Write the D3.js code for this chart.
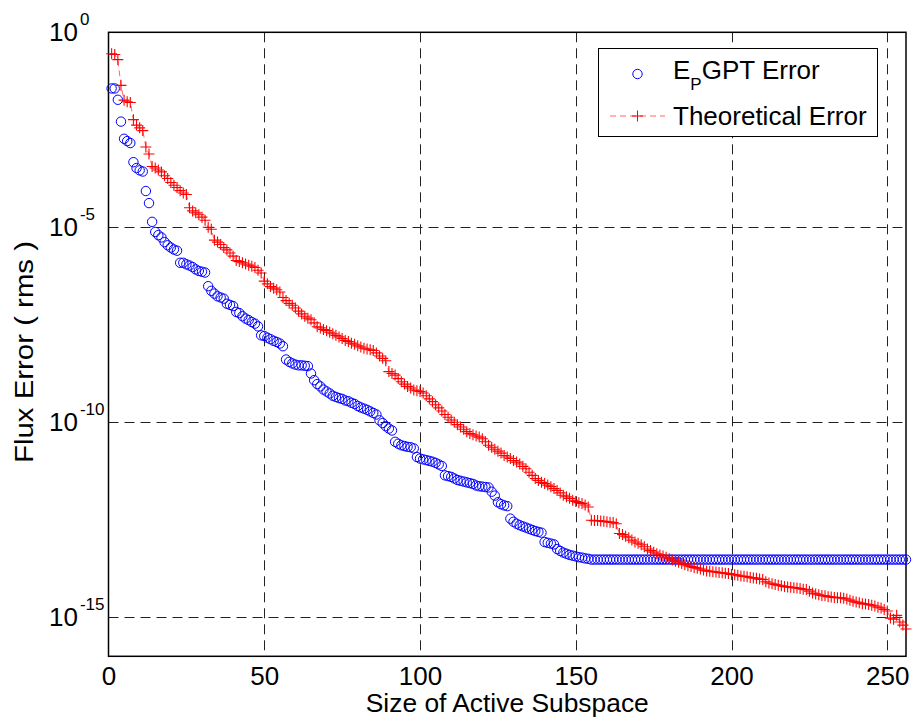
<!DOCTYPE html>
<html>
<head>
<meta charset="utf-8">
<script src="https://cdn.jsdelivr.net/npm/d3@7"></script>
<style>
  body { margin: 0; background: #fff; }
  svg text { font-family: 'Liberation Sans', Arial, Helvetica, sans-serif; fill: #000; }
</style>
</head>
<body>
<div id="chart"></div>
<script>
// subspace sizes 1..256 (x values)
var sizes = d3.range(1, 257);

// log10 of E_P GPT error
var gptErrorExp = [
  -1.44,-1.44,-1.73,-2.29,-2.73,-2.79,-2.84,-3.33,-3.48,-3.54,
  -3.57,-4.07,-4.38,-4.86,-5.12,-5.20,-5.26,-5.38,-5.46,-5.52,
  -5.57,-5.60,-5.91,-5.91,-5.95,-5.98,-6.02,-6.08,-6.12,-6.14,
  -6.16,-6.51,-6.63,-6.70,-6.77,-6.80,-6.83,-6.96,-6.99,-7.02,
  -7.17,-7.20,-7.28,-7.34,-7.38,-7.43,-7.47,-7.54,-7.77,-7.79,
  -7.83,-7.87,-7.91,-7.94,-7.98,-8.05,-8.39,-8.45,-8.49,-8.52,
  -8.54,-8.54,-8.55,-8.56,-8.75,-8.92,-9.02,-9.08,-9.16,-9.21,
  -9.26,-9.32,-9.35,-9.38,-9.40,-9.44,-9.46,-9.50,-9.53,-9.58,
  -9.62,-9.65,-9.68,-9.72,-9.76,-9.80,-9.95,-10.02,-10.10,-10.16,
  -10.21,-10.50,-10.55,-10.59,-10.61,-10.63,-10.64,-10.67,-10.89,-10.93,
  -10.95,-10.97,-10.99,-11.01,-11.04,-11.08,-11.12,-11.36,-11.38,-11.40,
  -11.44,-11.48,-11.50,-11.52,-11.54,-11.56,-11.58,-11.62,-11.64,-11.65,
  -11.66,-11.67,-11.78,-11.88,-12.05,-12.10,-12.13,-12.15,-12.47,-12.55,
  -12.60,-12.64,-12.67,-12.70,-12.73,-12.76,-12.79,-12.81,-12.83,-13.07,
  -13.09,-13.11,-13.13,-13.25,-13.30,-13.34,-13.37,-13.40,-13.42,-13.44,
  -13.46,-13.47,-13.49,-13.50,-13.52,-13.52,-13.52,-13.52,-13.52,-13.52,
  -13.52,-13.52,-13.52,-13.52,-13.52,-13.52,-13.52,-13.52,-13.52,-13.52,
  -13.52,-13.52,-13.52,-13.52,-13.52,-13.52,-13.52,-13.52,-13.52,-13.52,
  -13.52,-13.52,-13.52,-13.52,-13.52,-13.52,-13.52,-13.52,-13.52,-13.52,
  -13.52,-13.52,-13.52,-13.52,-13.52,-13.52,-13.52,-13.52,-13.52,-13.52,
  -13.52,-13.52,-13.52,-13.52,-13.52,-13.52,-13.52,-13.52,-13.52,-13.52,
  -13.52,-13.52,-13.52,-13.52,-13.52,-13.52,-13.52,-13.52,-13.52,-13.52,
  -13.52,-13.52,-13.52,-13.52,-13.52,-13.52,-13.52,-13.52,-13.52,-13.52,
  -13.52,-13.52,-13.52,-13.52,-13.52,-13.52,-13.52,-13.52,-13.52,-13.52,
  -13.52,-13.52,-13.52,-13.52,-13.52,-13.52,-13.52,-13.52,-13.52,-13.52,
  -13.52,-13.52,-13.52,-13.52,-13.52,-13.52
];

// log10 of theoretical error
var theoryErrorExp = [
  -0.55,-0.57,-0.70,-1.36,-1.74,-1.78,-1.80,-2.24,-2.38,-2.45,
  -2.52,-2.94,-3.12,-3.44,-3.48,-3.53,-3.58,-3.68,-3.75,-3.85,
  -3.92,-3.98,-4.06,-4.12,-4.16,-4.50,-4.58,-4.63,-4.68,-4.74,
  -4.82,-5.00,-5.05,-5.33,-5.38,-5.44,-5.52,-5.58,-5.66,-5.74,
  -5.85,-5.88,-5.91,-5.94,-5.97,-6.00,-6.03,-6.10,-6.17,-6.38,
  -6.45,-6.52,-6.56,-6.60,-6.66,-6.80,-6.88,-6.95,-7.00,-7.07,
  -7.15,-7.22,-7.28,-7.33,-7.37,-7.45,-7.55,-7.58,-7.62,-7.65,
  -7.69,-7.73,-7.77,-7.81,-7.85,-7.90,-7.93,-7.97,-8.00,-8.04,
  -8.07,-8.10,-8.12,-8.14,-8.16,-8.22,-8.30,-8.36,-8.42,-8.70,
  -8.75,-8.79,-8.88,-8.96,-9.02,-9.08,-9.12,-9.17,-9.19,-9.21,
  -9.25,-9.32,-9.40,-9.47,-9.55,-9.63,-9.71,-9.80,-9.87,-9.94,
  -10.00,-10.06,-10.12,-10.18,-10.24,-10.29,-10.32,-10.35,-10.38,-10.42,
  -10.50,-10.59,-10.64,-10.69,-10.74,-10.79,-10.85,-10.89,-10.93,-10.98,
  -11.02,-11.07,-11.13,-11.19,-11.28,-11.36,-11.44,-11.49,-11.54,-11.57,
  -11.61,-11.65,-11.70,-11.75,-11.81,-11.87,-11.91,-11.95,-12.00,-12.03,
  -12.06,-12.08,-12.12,-12.17,-12.51,-12.52,-12.52,-12.53,-12.54,-12.55,
  -12.56,-12.57,-12.60,-12.85,-12.88,-12.92,-12.96,-13.02,-13.07,-13.10,
  -13.14,-13.19,-13.25,-13.29,-13.33,-13.37,-13.40,-13.43,-13.46,-13.50,
  -13.53,-13.56,-13.59,-13.62,-13.65,-13.68,-13.70,-13.72,-13.74,-13.76,
  -13.79,-13.81,-13.82,-13.83,-13.84,-13.85,-13.86,-13.87,-13.88,-13.90,
  -13.91,-13.92,-13.94,-13.95,-13.96,-13.98,-13.99,-14.00,-14.02,-14.03,
  -14.09,-14.12,-14.14,-14.16,-14.18,-14.19,-14.21,-14.22,-14.23,-14.24,
  -14.25,-14.26,-14.28,-14.29,-14.33,-14.38,-14.40,-14.42,-14.44,-14.45,
  -14.47,-14.48,-14.49,-14.50,-14.50,-14.51,-14.53,-14.56,-14.59,-14.61,
  -14.63,-14.65,-14.66,-14.67,-14.69,-14.71,-14.74,-14.76,-14.80,-14.84,
  -15.02,-15.05,-14.95,-15.12,-15.20,-15.30
];

var xTicks = [0, 50, 100, 150, 200, 250];
var yTickExps = [0, -5, -10, -15];
var legendLabels = ['GPT Error', 'Theoretical Error'];

;(function() {
  'use strict';

  var width = 912, height = 719;
  var area = { left: 108.5, top: 32.3, right: 906, bottom: 656.3 };

  var svg = d3.select('#chart').append('svg')
    .attr('width', width)
    .attr('height', height)
    .attr('viewBox', '0 0 ' + width + ' ' + height);

  svg.append('rect').attr('width', width).attr('height', height).attr('fill', '#fff');

  var x = d3.scaleLinear()
    .domain([0, 256])
    .range([area.left, area.right]);

  var y = d3.scaleLog()
    .domain([1e-16, 1])
    .range([area.bottom, area.top]);

  var gpt = sizes.map(function(s, i) { return { x: s, y: Math.pow(10, gptErrorExp[i]) }; });
  var theory = sizes.map(function(s, i) { return { x: s, y: Math.pow(10, theoryErrorExp[i]) }; });

  // grid
  var grid = svg.append('g').attr('class', 'grid');
  grid.selectAll('line.v')
    .data(xTicks.filter(function(d) { return d > 0; }))
    .enter().append('line')
      .attr('class', 'v')
      .attr('x1', function(d) { return Math.round(x(d)) + 0.5; })
      .attr('x2', function(d) { return Math.round(x(d)) + 0.5; })
      .attr('y1', area.top)
      .attr('y2', area.bottom);
  grid.selectAll('line.h')
    .data(yTickExps.filter(function(d) { return d < 0; }))
    .enter().append('line')
      .attr('class', 'h')
      .attr('x1', area.left)
      .attr('x2', area.right)
      .attr('y1', function(d) { return Math.round(y(Math.pow(10, d))) + 0.5; })
      .attr('y2', function(d) { return Math.round(y(Math.pow(10, d))) + 0.5; });
  grid.selectAll('line')
    .attr('stroke', '#222')
    .attr('stroke-width', 1)
    .attr('stroke-dasharray', '10,6');

  // x tick labels
  var xAxis = d3.axisBottom(x)
    .tickValues(xTicks)
    .tickSize(0)
    .tickPadding(10)
    .tickFormat(d3.format('d'));

  var gx = svg.append('g')
    .attr('transform', 'translate(0,' + area.bottom + ')')
    .call(xAxis);
  gx.select('.domain').remove();
  gx.selectAll('text')
    .attr('font-size', '26px')
    .attr('font-family', "'Liberation Sans', Arial, sans-serif");

  // y tick labels 10^n
  var yLab = svg.append('g').selectAll('text')
    .data(yTickExps)
    .enter().append('text')
      .attr('x', 49)
      .attr('y', function(d) { return y(Math.pow(10, d)) + 9; })
      .attr('font-size', '26px');
  yLab.append('tspan').text('10');
  yLab.append('tspan')
    .attr('dy', -16)
    .attr('dx', 2)
    .attr('font-size', '17px')
    .text(function(d) { return d === 0 ? '0' : '-' + Math.abs(d); });

  // axes box
  svg.append('rect')
    .attr('x', area.left)
    .attr('y', area.top)
    .attr('width', area.right - area.left)
    .attr('height', area.bottom - area.top)
    .attr('fill', 'none')
    .attr('stroke', '#000')
    .attr('stroke-width', 1.5);

  // E_P GPT circles
  svg.append('g').selectAll('circle')
    .data(gpt)
    .enter().append('circle')
      .attr('cx', function(d) { return x(d.x); })
      .attr('cy', function(d) { return y(d.y); })
      .attr('r', 4.7)
      .attr('fill', 'none')
      .attr('stroke', '#0000ff')
      .attr('stroke-width', 1);

  // theoretical: dashed line + plus markers
  var lineGen = d3.line()
    .x(function(d) { return x(d.x); })
    .y(function(d) { return y(d.y); });

  svg.append('path')
    .attr('d', lineGen(theory))
    .attr('fill', 'none')
    .attr('stroke', '#ff0000')
    .attr('stroke-opacity', 0.6)
    .attr('stroke-width', 1)
    .attr('stroke-dasharray', '6,4');

  var pm = 5.5;
  var plusPath = 'M' + (-pm) + ',0H' + pm + 'M0,' + (-pm) + 'V' + pm;
  svg.append('g').selectAll('path')
    .data(theory)
    .enter().append('path')
      .attr('d', plusPath)
      .attr('transform', function(d) { return 'translate(' + x(d.x) + ',' + y(d.y) + ')'; })
      .attr('fill', 'none')
      .attr('stroke', '#ff0000')
      .attr('stroke-width', 1.1);

  // axis labels
  svg.append('text')
    .attr('x', (area.left + area.right) / 2)
    .attr('y', 712)
    .attr('text-anchor', 'middle')
    .attr('font-size', '26px')
    .attr('textLength', 283)
    .attr('lengthAdjust', 'spacingAndGlyphs')
    .text('Size of Active Subspace');

  svg.append('text')
    .attr('transform', 'translate(33,352) rotate(-90)')
    .attr('text-anchor', 'middle')
    .attr('font-size', '26px')
    .attr('textLength', 222)
    .attr('lengthAdjust', 'spacingAndGlyphs')
    .text('Flux Error ( rms )');

  // legend
  var lg = svg.append('g').attr('class', 'legend');
  lg.append('rect')
    .attr('x', 598.5)
    .attr('y', 48.5)
    .attr('width', 279)
    .attr('height', 88)
    .attr('fill', '#fff')
    .attr('stroke', '#000')
    .attr('stroke-width', 1);

  lg.append('circle')
    .attr('cx', 637.5).attr('cy', 74)
    .attr('r', 4.7)
    .attr('fill', 'none')
    .attr('stroke', '#0000ff');

  var t1 = lg.append('text')
    .attr('x', 673)
    .attr('y', 79)
    .attr('font-size', '26px');
  t1.append('tspan').text('E');
  t1.append('tspan').attr('dy', 11).attr('font-size', '17px').text('P');
  t1.append('tspan').attr('dy', -11).text(legendLabels[0]);

  lg.append('line')
    .attr('x1', 610).attr('x2', 665)
    .attr('y1', 116).attr('y2', 116)
    .attr('stroke', '#ff0000')
    .attr('stroke-opacity', 0.6)
    .attr('stroke-dasharray', '6,4');
  lg.append('path')
    .attr('d', plusPath)
    .attr('transform', 'translate(637.5,116)')
    .attr('stroke', '#ff0000')
    .attr('fill', 'none');

  lg.append('text')
    .attr('x', 673)
    .attr('y', 125)
    .attr('font-size', '26px')
    .text(legendLabels[1]);

})();
</script>
</body>
</html>
